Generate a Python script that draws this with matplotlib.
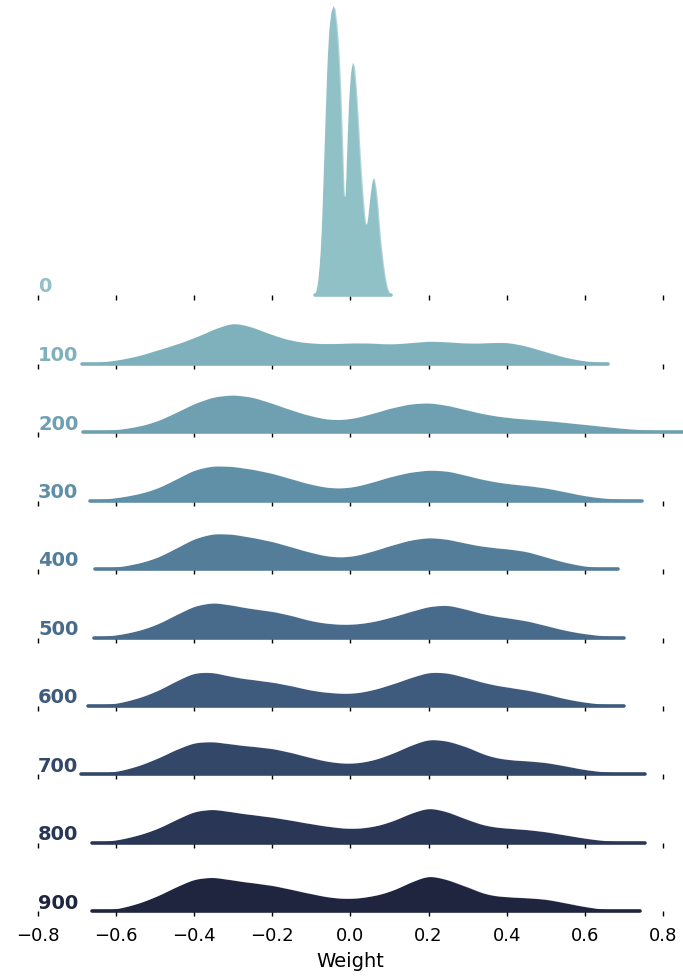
import numpy as np
import matplotlib
matplotlib.use("Agg")
import matplotlib.pyplot as plt
import seaborn as sns

plt.rcParams['font.family'] = ['DejaVu Sans']

# Training steps (one ridge per step)
steps = ["0", "100", "200", "300", "400", "500", "600", "700", "800", "900"]

# Step 0: weight values (fine grid) and their relative frequencies
grid_0 = [-0.090, -0.085, -0.080, -0.075, -0.070, -0.065, -0.060, -0.055, -0.050, -0.045,
          -0.040, -0.035, -0.030, -0.025, -0.020, -0.015, -0.010, -0.005, 0.000, 0.005,
          0.010, 0.015, 0.020, 0.025, 0.030, 0.035, 0.040, 0.045, 0.050, 0.055,
          0.060, 0.065, 0.070, 0.075, 0.080, 0.085, 0.090, 0.095, 0.100]
freq_0 = [2, 10, 29, 60, 120, 180, 235, 268, 281, 287,
          285, 270, 245, 205, 150, 72, 145, 195, 222, 232,
          228, 205, 175, 137, 108, 84, 64, 80, 100, 114,
          118, 108, 90, 63, 44, 28, 15, 6, 2]

# Later steps: weight values (coarse grid) and relative frequencies
grid_w = [-0.70, -0.65, -0.60, -0.55, -0.50, -0.45, -0.40, -0.35, -0.30, -0.25,
          -0.20, -0.15, -0.10, -0.05, 0.00, 0.05, 0.10, 0.15, 0.20, 0.25,
          0.30, 0.35, 0.40, 0.45, 0.50, 0.55, 0.60, 0.65, 0.70, 0.75, 0.80, 0.85]
freq_100 = [0, 1.0, 3.3, 7, 13, 19, 26, 35, 42.5, 37, 29, 23, 20.5, 20, 21, 21,
            19.5, 21, 23, 22, 20.5, 21, 22, 18, 12, 6, 2.5, 0.8, 0, 0, 0, 0]
freq_200 = [0, 0.8, 2.3, 5, 10, 19, 29, 36, 38, 35.5, 29, 22, 16, 12, 13, 18,
            24, 28.5, 30, 27, 22, 17.5, 14.7, 13, 11.7, 9.7, 7.7, 5.6, 3.6, 2.1, 1.0, 0.4]
freq_300 = [0, 0.8, 2.7, 6, 11.3, 21, 32, 36, 35, 32, 28, 22, 16.3, 12.5, 13, 18,
            24.3, 29, 31.5, 30.5, 25.3, 20.5, 17.3, 15.5, 13, 9, 4.7, 2.3, 1.1, 0.5, 0, 0]
freq_400 = [0, 0.5, 1.7, 5, 10.3, 20, 31, 36, 35, 31.5, 27.7, 22, 16.3, 12, 12, 17,
            23.3, 29, 32, 30, 25.3, 22, 20.3, 18, 12, 6.5, 2.7, 0.8, 0, 0, 0, 0]
freq_500 = [0, 0.6, 2.3, 6, 12, 22, 32, 35.5, 32, 28.5, 26.3, 22, 16.3, 13.5, 12.8, 15,
            19.7, 25.5, 31.3, 33, 27.7, 22.5, 19.7, 17, 12, 7, 3.7, 1.5, 0.5, 0, 0, 0]
freq_600 = [0, 0.7, 2.3, 7, 13.7, 24, 33.7, 33.5, 28.5, 26, 23.7, 20, 15.3, 13, 12, 15,
            20.7, 27.5, 34, 33, 27.7, 22, 18.7, 16, 12, 7, 3.7, 1.5, 0.5, 0, 0, 0]
freq_700 = [0.3, 1.0, 2.7, 7.5, 14.7, 24, 32, 32.5, 29.5, 27.5, 25.7, 21.5, 16.3, 12, 10.5, 13,
            19.3, 28, 35.5, 33, 27, 18, 14.5, 13.5, 12, 8.5, 4.7, 2.5, 1.3, 0.5, 0, 0]
freq_800 = [0, 0.8, 2.7, 7, 13, 22.5, 32, 34, 30.5, 28, 25.7, 22.5, 19, 16, 14, 15.5,
            20.3, 29, 36, 31, 23, 16.5, 14.7, 13.5, 11.3, 8, 4.7, 2.3, 1.0, 0.4, 0, 0]
freq_900 = [0, 0.8, 2.3, 7, 14, 23.5, 32.3, 34, 30.5, 28, 25.7, 21.5, 17.3, 13.5, 12.3, 14.5,
            19, 28, 36.3, 31, 24, 16, 14.3, 13.5, 12.3, 8.5, 4.7, 2.0, 0.7, 0, 0, 0]

# Observed range of weights per step
range_lo = [-0.092, -0.687, -0.685, -0.668, -0.654, -0.657, -0.671, -0.690, -0.663, -0.661]
range_hi = [0.104, 0.658, 0.851, 0.747, 0.684, 0.700, 0.700, 0.753, 0.753, 0.742]

grids = [grid_0] + [grid_w] * 9
freqs = [freq_0, freq_100, freq_200, freq_300, freq_400, freq_500,
         freq_600, freq_700, freq_800, freq_900]
kernel_sd = [0.003] + [0.03] * 9

pal = sns.cubehelix_palette(10, rot=-.25, light=.7)

W, H = 683, 978
fig, axes = plt.subplots(10, 1, figsize=(W / 100, H / 100), dpi=100, sharex=True,
                         gridspec_kw=dict(hspace=0))
row_px = 68.5
fig.subplots_adjust(left=38 / W, right=663 / W, top=1 - (296 - row_px) / H,
                    bottom=1 - 912.5 / H)
px_per_density = [26.6] + [25.0] * 9

for i, ax in enumerate(axes):
    x = np.asarray(grids[i], dtype=float)
    w = np.asarray(freqs[i], dtype=float)
    keep = w > 0
    x, w = x[keep], w[keep]
    std = np.sqrt(np.cov(x, aweights=w))
    kde_kws = dict(x=x, weights=w, bw_method=kernel_sd[i] / std,
                   clip=(range_lo[i], range_hi[i]), ax=ax, clip_on=False, gridsize=500)
    sns.kdeplot(fill=True, alpha=1, linewidth=0, color=pal[i], **kde_kws)
    sns.kdeplot(color="w", linewidth=1.0, alpha=0.3, **kde_kws)
    ax.plot([range_lo[i], range_hi[i]], [0, 0], color=pal[i], linewidth=2.6,
            solid_capstyle="round", clip_on=False)
    ax.set_facecolor((0, 0, 0, 0))
    ax.set_xlim(-0.8, 0.8)
    ax.set_ylim(0, row_px / px_per_density[i])
    ax.set_yticks([])
    ax.set_ylabel("")
    for s in ax.spines.values():
        s.set_visible(False)
    ax.set_xticks([-0.8, -0.6, -0.4, -0.2, 0.0, 0.2, 0.4, 0.6, 0.8])
    ax.tick_params(axis='x', bottom=True, length=3.8, width=1, color='black',
                   direction='out', labelsize=13, labelcolor='black', pad=7)
    ax.text(0, 3.5 / row_px, steps[i], fontweight='bold', fontsize=14,
            color=pal[i], ha='left', va='baseline', transform=ax.transAxes)

axes[-1].set_xlabel("Weight", fontsize=14, labelpad=5)
fig.savefig("out.png", dpi=100)
